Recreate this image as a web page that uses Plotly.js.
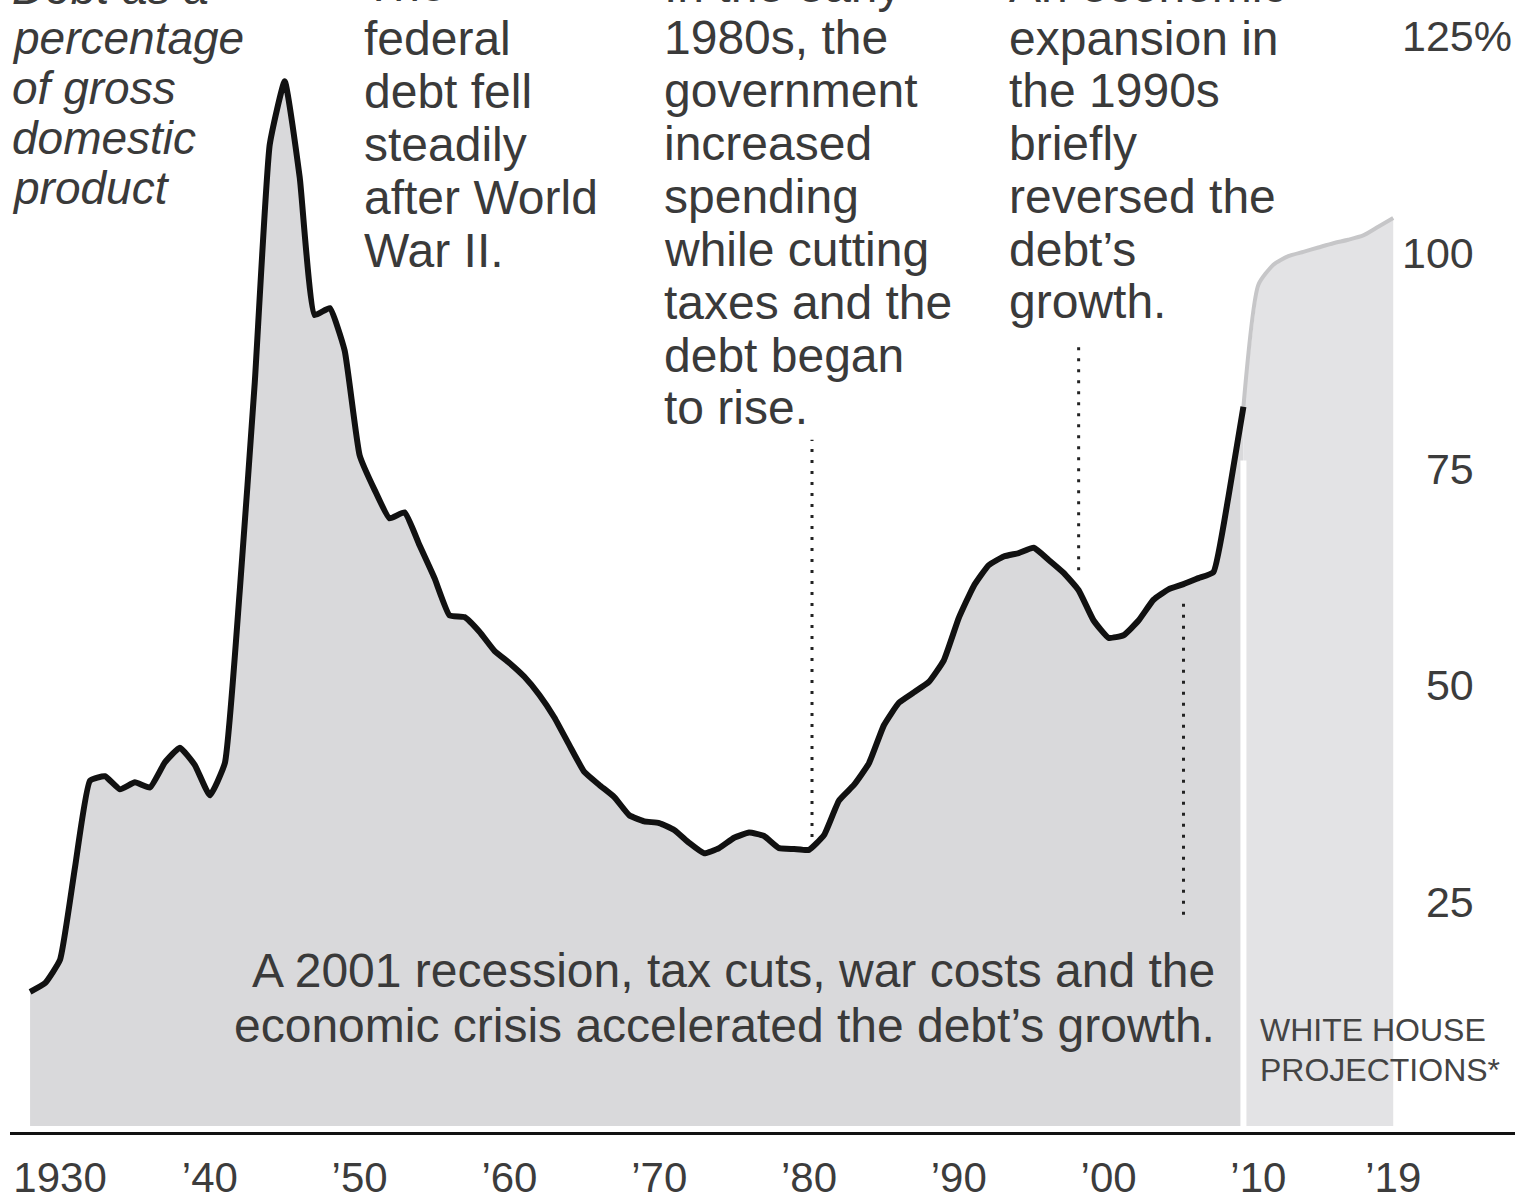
<!DOCTYPE html>
<html>
<head>
<meta charset="utf-8">
<script src="https://cdn.plot.ly/plotly-3.0.1.min.js"></script>
<style>
  html, body { margin: 0; padding: 0; background: #ffffff; }
  #chart { width: 1528px; height: 1204px; }
</style>
</head>
<body>
<div id="chart"></div>
<script>
// ---------- DATA ----------
const histYears = [1928,1929,1930,1931,1932,1933,1934,1935,1936,1937,1938,1939,
  1940,1941,1942,1943,1944,1945,1946,1947,1948,1949,
  1950,1951,1952,1953,1954,1955,1956,1957,1958,1959,
  1960,1961,1962,1963,1964,1965,1966,1967,1968,1969,
  1970,1971,1972,1973,1974,1975,1976,1977,1978,1979,
  1980,1981,1982,1983,1984,1985,1986,1987,1988,1989,
  1990,1991,1992,1993,1994,1995,1996,1997,1998,1999,
  2000,2001,2002,2003,2004,2005,2006,2007,2008,2009];
const histDebt = [14.6,15.6,18.3,29.0,39.0,39.5,38.0,38.8,38.2,41.1,42.8,40.8,
  37.3,41.0,61.0,85.0,112.5,119.8,108.7,92.8,93.6,88.7,
  76.6,72.6,69.3,70.0,66.2,62.4,58.1,57.9,56.2,54.0,
  52.6,51.0,48.9,46.3,43.1,40.0,38.5,37.1,35.0,34.3,
  34.1,33.3,31.8,30.6,31.2,32.4,33.0,32.6,31.2,31.1,
  31.0,32.7,36.7,38.5,41.0,45.4,48.0,49.2,50.4,52.9,
  57.8,61.5,63.9,64.9,65.3,65.9,64.5,63.0,61.0,57.5,
  55.5,55.8,57.5,59.9,61.1,61.7,62.4,63.1,71.8,82.2];

const projYears = [2009,2010,2011,2012,2013,2014,2015,2016,2017,2018,2019];
const projDebt  = [82.2,96.3,98.6,99.6,100.1,100.6,101.1,101.5,102.0,103.0,104.0];

const xTickVals   = [1930,1940,1950,1960,1970,1980,1990,2000,2010,2019];
const xTickLabels = ['1930','\u201940','\u201950','\u201960','\u201970','\u201980','\u201990','\u201900','\u201910','\u201919'];
const yTickVals   = [25,50,75,100,125];
const yTickLabels = ['25','50','75','100','125%'];

const noteDebtLabel = ['Debt as a','percentage','of gross','domestic','product'];
const noteWar  = ['The','federal','debt fell','steadily','after World','War II.'];
const note1980 = ['In the early','1980s, the','government','increased','spending','while cutting','taxes and the','debt began','to rise.'];
const note1990 = ['An economic','expansion in','the 1990s','briefly','reversed the','debt\u2019s','growth.'];
const note2001 = ['A 2001 recession, tax cuts, war costs and the','economic crisis accelerated the debt\u2019s growth.'];
const noteProj = ['WHITE HOUSE','PROJECTIONS*'];

// marker lines (year, from value, to value)
const markerYears = [1980.2, 1998.0, 2005.0];
const markerTop   = [78.4, 90.0, 59.9];
const markerBot   = [32.5, 63.3, 23.5];

// ---------- LAYOUT HELPERS ----------
const W = 1528, H = 1204;
const M = {l: 10, r: 13, t: 0, b: 72};
const PW = W - M.l - M.r, PH = H - M.t - M.b;
const px2paper = px => (px - M.l) / PW;
const py2paper = py => 1 - (py - M.t) / PH;
const BASE = -0.9;

const FONT = 'Liberation Sans, Arial, Helvetica, sans-serif';
const TXT = '#3a3a3a';

const traces = [];
// main fill
traces.push({
  x: histYears.concat([histYears[histYears.length-1], histYears[0]]),
  y: histDebt.concat([BASE, BASE]),
  type: 'scatter', mode: 'lines', fill: 'toself',
  fillcolor: '#d9d9db', line: {width: 0, color: 'rgba(0,0,0,0)'},
  hoverinfo: 'skip'
});
// projection fill
traces.push({
  x: projYears.concat([projYears[projYears.length-1], projYears[0]]),
  y: projDebt.concat([BASE, BASE]),
  type: 'scatter', mode: 'lines', fill: 'toself',
  fillcolor: '#e3e3e5', line: {width: 0, color: 'rgba(0,0,0,0)'},
  hoverinfo: 'skip'
});
// projection line
traces.push({
  x: projYears, y: projDebt, type: 'scatter', mode: 'lines',
  line: {color: '#c6c6c8', width: 4, shape: 'spline', smoothing: 0.6}
});
// historical line
traces.push({
  x: histYears, y: histDebt, type: 'scatter', mode: 'lines',
  line: {color: '#111111', width: 6, shape: 'spline', smoothing: 0.4}
});

const annotations = [];
function addBlock(lines, xLeft, y0, dy, italic) {
  lines.forEach((t, i) => {
    annotations.push({
      xref: 'paper', yref: 'paper',
      x: px2paper(xLeft), y: py2paper(y0 + i * dy),
      xanchor: 'left', yanchor: 'middle', showarrow: false,
      text: italic ? '<i>' + t + '</i>' : t,
      font: {family: FONT, size: italic ? 46 : 48, color: TXT}
    });
  });
}
addBlock(noteDebtLabel, 10, -12, 50, true);
addBlock(noteWar, 362, -15, 53, false);
addBlock(note1980, 662, -14.9, 52.86, false);
addBlock(note1990, 1007, -14.8, 52.8, false);

note2001.forEach((t, i) => {
  annotations.push({
    xref: 'paper', yref: 'paper',
    x: px2paper(1217), y: py2paper(970 + i * 55),
    xanchor: 'right', yanchor: 'middle', showarrow: false,
    text: t, font: {family: FONT, size: 48, color: TXT}
  });
});
noteProj.forEach((t, i) => {
  annotations.push({
    xref: 'paper', yref: 'paper',
    x: px2paper(1258), y: py2paper(1030 + i * 40),
    xanchor: 'left', yanchor: 'middle', showarrow: false,
    text: t, font: {family: FONT, size: 32, color: '#444444'}
  });
});

const shapes = [];
markerYears.forEach((yr, i) => {
  shapes.push({
    type: 'line', xref: 'x', yref: 'y',
    x0: yr, x1: yr, y0: markerBot[i], y1: markerTop[i],
    line: {color: '#222222', width: 3, dash: '3px,8px'},
    layer: 'above'
  });
});
// white separator between history and projection
shapes.push({
  type: 'line', xref: 'x', yref: 'y',
  x0: projYears[0], x1: projYears[0], y0: BASE - 0.3, y1: 76,
  line: {color: '#ffffff', width: 6}, layer: 'above'
});

const yTickText = yTickLabels.map(t => t.endsWith('%') ? t : t + '<span style="color:rgba(0,0,0,0)">%</span>');

const layout = {
  width: W, height: H,
  margin: {l: M.l, r: M.r, t: M.t, b: M.b, pad: 0},
  paper_bgcolor: '#ffffff', plot_bgcolor: '#ffffff',
  showlegend: false,
  xaxis: {
    range: [1926.66, 2027.13],
    tickmode: 'array', tickvals: xTickVals, ticktext: xTickLabels,
    showgrid: false, zeroline: false,
    showline: true, linecolor: '#111111', linewidth: 3,
    ticks: '', ticklabelstandoff: 7,
    tickfont: {family: FONT, size: 42, color: '#3c3c3c'}
  },
  yaxis: {
    range: [-1.6, 129.2],
    side: 'right', ticklabelposition: 'inside',
    tickmode: 'array', tickvals: yTickVals, ticktext: yTickText,
    showgrid: false, zeroline: false, showline: false, ticks: '',
    tickfont: {family: FONT, size: 43, color: '#3c3c3c'}
  },
  annotations: annotations,
  shapes: shapes
};

Plotly.newPlot('chart', traces, layout, {staticPlot: true, displayModeBar: false});
</script>
</body>
</html>
